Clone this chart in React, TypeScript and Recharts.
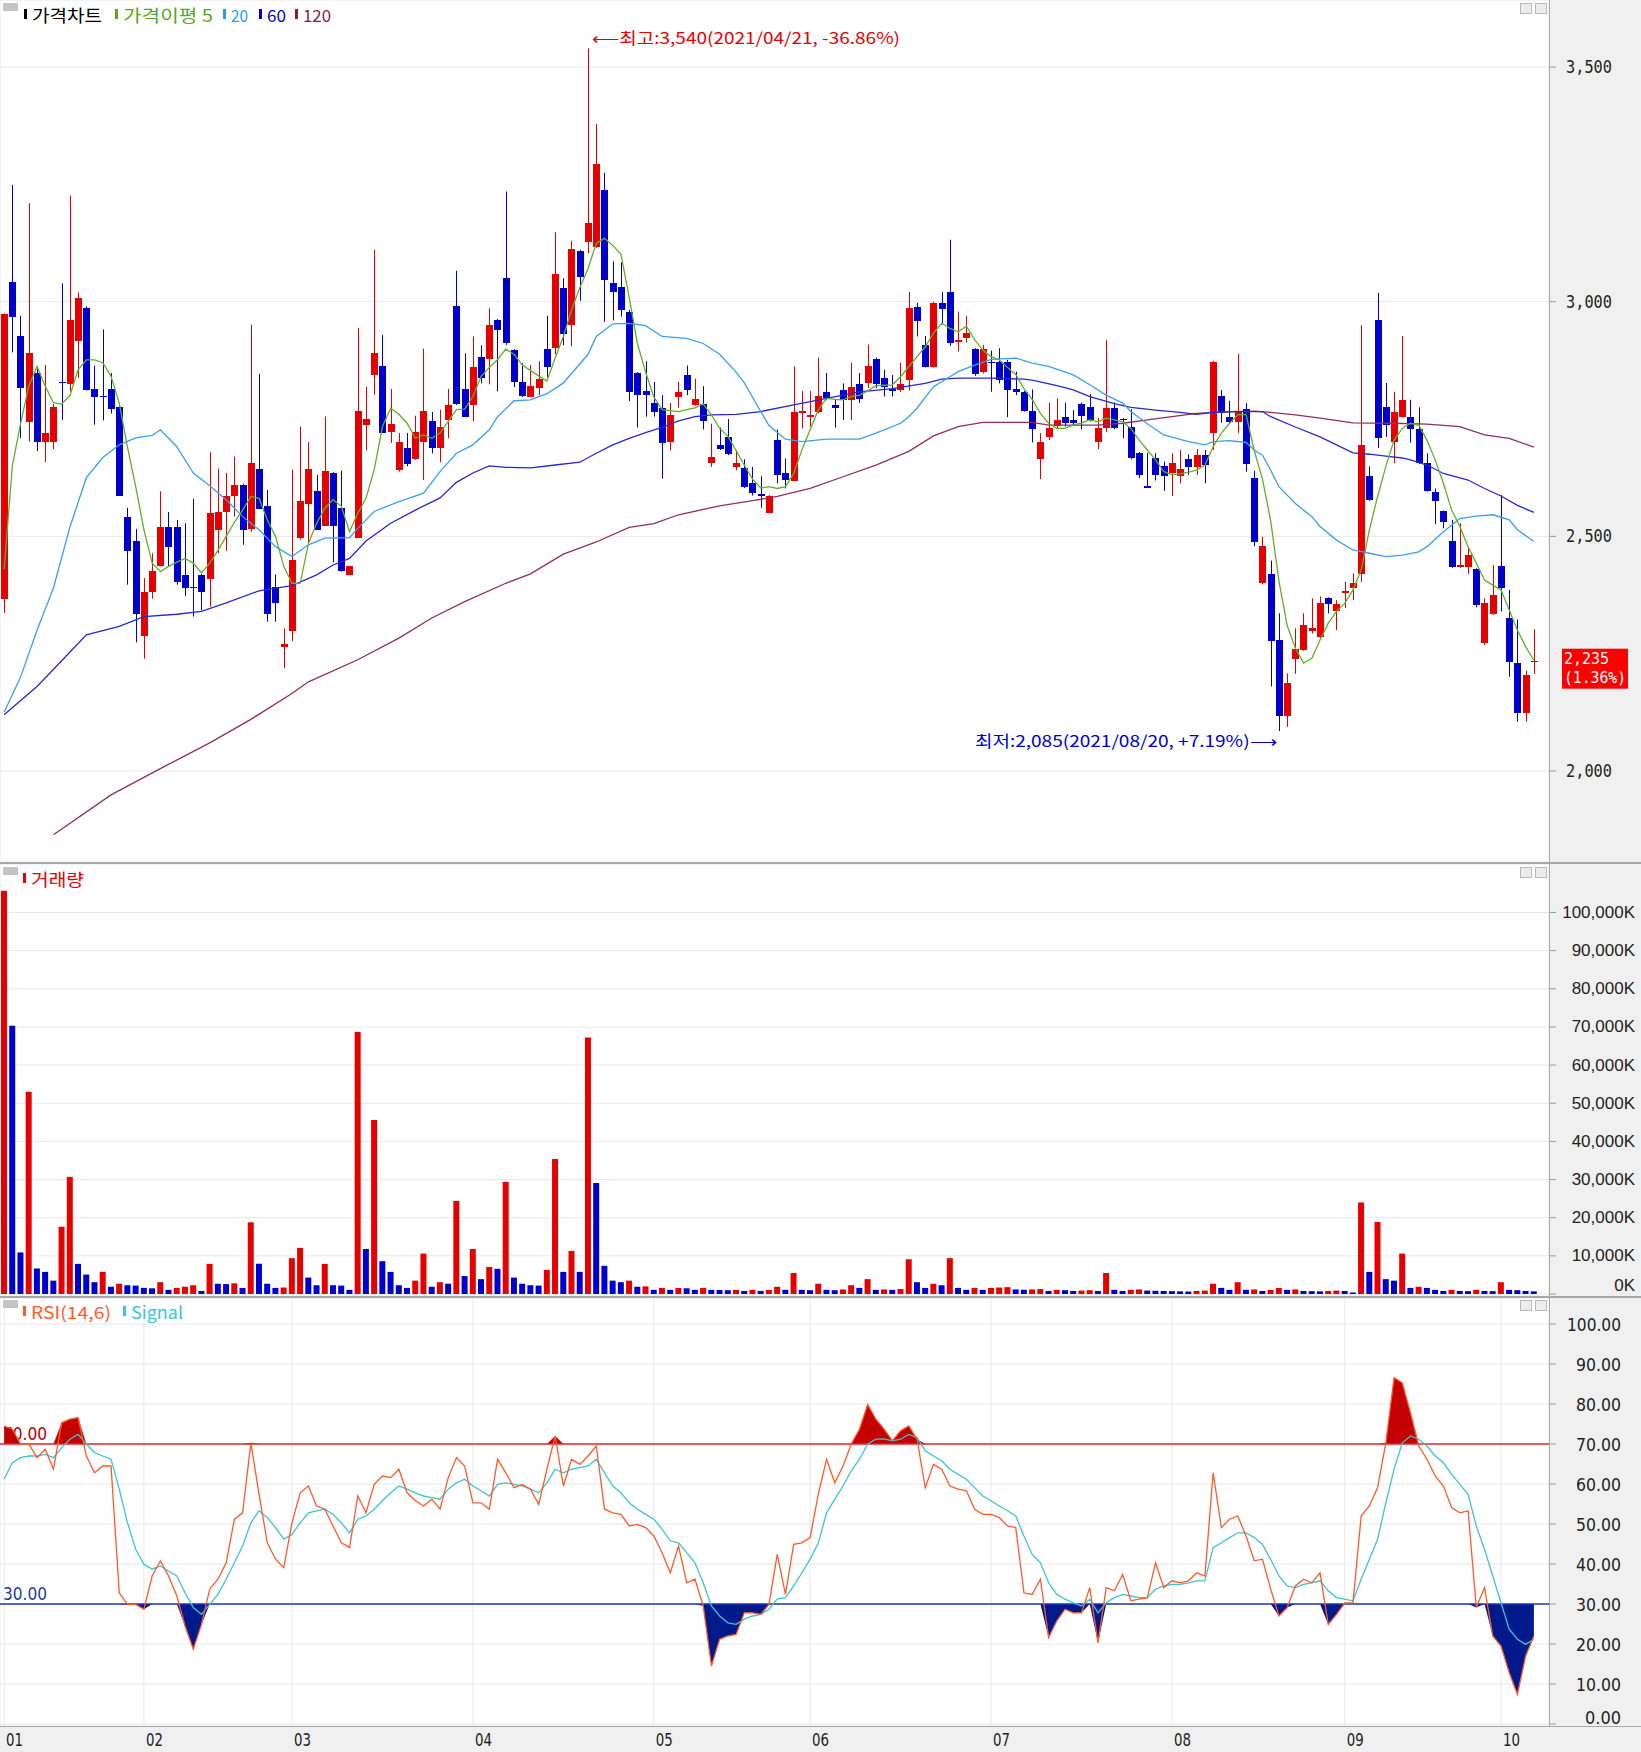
import React from "react";
import {
  ComposedChart,
  Bar,
  Line,
  Area,
  XAxis,
  YAxis,
  CartesianGrid,
  ReferenceLine,
  ReferenceDot,
  Cell,
} from "recharts";

const W = 1641;
const AXIS_W = 92;
const PAD_R = 11;
const RED = "#e60000";
const BLUE = "#0000cc";
const GRID = "#e8e8e8";
const NARROW = "'DejaVu Sans', sans-serif";
const KR = "'Noto Sans CJK KR', sans-serif";

// month boundaries (index of first trading day) and their labels
const monthStarts = [0, 17, 35, 57, 79, 98, 120, 142, 163, 182];
const monthLabels = ["01", "02", "03", "04", "05", "06", "07", "08", "09", "10"];

// daily candles, 2021-01-07 .. 2021-10-08
const opens = [
  2366, 3043, 2928, 2743, 2849, 2700, 2702, 2829, 2824, 2917,
  2986, 2814, 2800, 2814, 2775, 2542, 2490, 2287, 2382, 2437,
  2519, 2519, 2417, 2392, 2417, 2409, 2514, 2552, 2586, 2609,
  2515, 2643, 2564, 2391, 2265, 2299, 2496, 2569, 2596, 2523,
  2634, 2560, 2418, 2497, 2738, 2843, 2862, 2722, 2642, 2688,
  2664, 2700, 2745, 2688, 2748, 2990, 2814, 2780, 2883, 2878,
  2960, 3050, 2897, 2828, 2798, 2816, 2899, 2902, 3030, 2950,
  3109, 3128, 3116, 3238, 3040, 3031, 2978, 2848, 2810, 2785,
  2774, 2702, 2798, 2844, 2780, 2783, 2656, 2694, 2711, 2648,
  2645, 2614, 2590, 2549, 2705, 2634, 2619, 2762, 2754, 2764,
  2808, 2780, 2812, 2791, 2825, 2826, 2879, 2838, 2813, 2812,
  2833, 2988, 2908, 2860, 2998, 3021, 2914, 2922, 2899, 2851,
  2871, 2872, 2872, 2813, 2808, 2768, 2664, 2711, 2735, 2755,
  2749, 2781, 2775, 2700, 2730, 2774, 2751, 2734, 2677, 2607,
  2668, 2650, 2634, 2629, 2664, 2647, 2673, 2720, 2800, 2755,
  2744, 2771, 2624, 2400, 2420, 2279, 2117, 2238, 2258, 2299,
  2285, 2368, 2340, 2380, 2389, 2420, 2629, 2962, 2775, 2700,
  2755, 2755, 2728, 2656, 2595, 2553, 2491, 2435, 2435, 2430,
  2273, 2335, 2437, 2325, 2231, 2124, 2233,
];
const highs = [
  2975, 3249, 2970, 3210, 2862, 2865, 2782, 3039, 3226, 3020,
  2990, 2864, 2941, 2848, 2784, 2561, 2516, 2411, 2464, 2596,
  2552, 2535, 2528, 2580, 2420, 2679, 2644, 2635, 2670, 2612,
  2951, 2846, 2599, 2419, 2304, 2642, 2734, 2701, 2631, 2755,
  2637, 2640, 2437, 2944, 2819, 3111, 2929, 2814, 2720, 2720,
  2757, 2900, 2765, 2770, 2814, 3066, 2890, 2926, 2907, 2986,
  2963, 3235, 2899, 2869, 2865, 2873, 2970, 3148, 3050, 3130,
  3111, 3540, 3379, 3275, 3086, 3084, 2983, 2850, 2873, 2829,
  2801, 2784, 2829, 2864, 2836, 2820, 2740, 2732, 2750, 2684,
  2664, 2648, 2628, 2588, 2728, 2666, 2862, 2810, 2810, 2881,
  2848, 2793, 2826, 2870, 2848, 2909, 2881, 2855, 2844, 2870,
  3021, 2998, 2927, 3000, 3021, 3132, 2979, 2970, 2901, 2908,
  2896, 2901, 2876, 2851, 2810, 2813, 2720, 2785, 2794, 2785,
  2769, 2785, 2803, 2752, 2918, 2785, 2752, 2771, 2680, 2678,
  2677, 2659, 2677, 2684, 2675, 2686, 2684, 2874, 2812, 2789,
  2889, 2784, 2640, 2499, 2448, 2336, 2208, 2304, 2336, 2368,
  2372, 2370, 2364, 2403, 2421, 2950, 2649, 3019, 2827, 2808,
  2927, 2791, 2775, 2677, 2602, 2555, 2535, 2528, 2475, 2432,
  2368, 2439, 2588, 2386, 2323, 2214, 2302,
];
const lows = [
  2337, 2892, 2709, 2702, 2682, 2658, 2686, 2748, 2809, 2837,
  2811, 2738, 2747, 2762, 2587, 2397, 2274, 2239, 2367, 2436,
  2436, 2397, 2373, 2329, 2343, 2350, 2464, 2469, 2542, 2482,
  2510, 2559, 2318, 2318, 2219, 2277, 2493, 2485, 2514, 2523,
  2445, 2425, 2418, 2497, 2683, 2802, 2720, 2699, 2638, 2649,
  2663, 2620, 2677, 2658, 2709, 2780, 2754, 2745, 2826, 2824,
  2809, 2908, 2818, 2797, 2797, 2801, 2839, 2888, 2907, 2905,
  3002, 3103, 3115, 2957, 2960, 2968, 2788, 2732, 2755, 2755,
  2623, 2683, 2774, 2801, 2778, 2728, 2648, 2684, 2673, 2641,
  2603, 2587, 2561, 2549, 2613, 2602, 2619, 2730, 2734, 2762,
  2790, 2732, 2748, 2748, 2784, 2816, 2816, 2798, 2798, 2808,
  2811, 2926, 2860, 2860, 2954, 2906, 2894, 2913, 2842, 2847,
  2808, 2826, 2754, 2801, 2766, 2700, 2622, 2705, 2730, 2734,
  2735, 2728, 2745, 2686, 2722, 2728, 2709, 2664, 2624, 2603,
  2619, 2597, 2586, 2613, 2631, 2631, 2613, 2684, 2742, 2740,
  2720, 2638, 2479, 2398, 2180, 2085, 2094, 2207, 2256, 2293,
  2284, 2336, 2300, 2347, 2364, 2403, 2576, 2688, 2712, 2656,
  2753, 2700, 2654, 2595, 2526, 2517, 2433, 2433, 2420, 2349,
  2268, 2333, 2340, 2201, 2105, 2105, 2207,
];
const closes = [
  2973, 2968, 2817, 2890, 2702, 2720, 2775, 2826, 2960, 3008,
  2812, 2798, 2798, 2772, 2587, 2469, 2334, 2381, 2426, 2519,
  2478, 2402, 2390, 2391, 2382, 2549, 2552, 2586, 2609, 2514,
  2656, 2559, 2334, 2358, 2271, 2449, 2576, 2644, 2514, 2640,
  2523, 2426, 2436, 2768, 2750, 2890, 2720, 2740, 2701, 2654,
  2723, 2768, 2688, 2733, 2780, 2782, 2754, 2860, 2837, 2951,
  2939, 2912, 2828, 2800, 2820, 2835, 2861, 3059, 2932, 3113,
  3052, 3168, 3293, 3046, 3021, 2983, 2808, 2801, 2802, 2766,
  2699, 2759, 2808, 2812, 2793, 2745, 2669, 2686, 2676, 2656,
  2605, 2593, 2587, 2586, 2631, 2620, 2764, 2768, 2759, 2800,
  2794, 2773, 2791, 2819, 2792, 2864, 2825, 2819, 2811, 2825,
  2986, 2958, 2860, 2998, 2984, 2911, 2919, 2934, 2846, 2899,
  2869, 2833, 2811, 2808, 2768, 2728, 2702, 2730, 2747, 2741,
  2742, 2757, 2748, 2730, 2774, 2730, 2748, 2666, 2631, 2604,
  2631, 2629, 2656, 2643, 2647, 2673, 2652, 2872, 2762, 2744,
  2766, 2654, 2487, 2479, 2278, 2117, 2187, 2259, 2311, 2304,
  2357, 2355, 2355, 2384, 2400, 2695, 2578, 2709, 2737, 2764,
  2791, 2728, 2656, 2597, 2575, 2531, 2435, 2439, 2460, 2354,
  2359, 2375, 2389, 2233, 2123, 2205, 2235,
];

// volume, in thousands of shares
const volumes = [
  105700, 70300, 10900, 53000, 6700, 5800, 3500, 17600, 30700, 7900,
  5100, 3100, 5800, 1900, 2700, 2300, 2200, 1600, 1500, 3100,
  1100, 1600, 1900, 2300, 800, 7900, 2700, 2600, 2800, 1600,
  18800, 7900, 2700, 1600, 1700, 9400, 12100, 4300, 2300, 7900,
  2300, 2200, 1100, 68700, 11800, 45600, 8600, 5800, 2300, 1600,
  3500, 10600, 1900, 3100, 2700, 24400, 4700, 11800, 3900, 7100,
  6600, 29400, 4300, 2700, 2300, 2200, 6300, 35400, 5800, 11300,
  5800, 67200, 29100, 7400, 3500, 3100, 3500, 1900, 2000, 1100,
  1600, 1100, 1600, 1500, 1100, 1600, 1100, 1050, 1000, 1100,
  800, 1100, 800, 1100, 1900, 1100, 5500, 1100, 1000, 2700,
  1100, 1000, 1200, 2300, 1600, 3900, 1100, 1200, 1100, 1300,
  9100, 3100, 1600, 2700, 2300, 9400, 1600, 1100, 1600, 1100,
  1600, 1700, 1800, 1200, 1100, 1200, 1300, 800, 1100, 1000,
  800, 900, 1000, 800, 5500, 1100, 800, 1100, 1200, 900,
  850, 800, 750, 700, 650, 800, 900, 2700, 1600, 1100,
  3100, 1100, 1200, 800, 1100, 1600, 1100, 1200, 800, 750,
  700, 800, 900, 800, 400, 24000, 5800, 18900, 3900, 3500,
  10600, 1600, 1900, 1600, 1100, 800, 1100, 800, 750, 1100,
  800, 750, 3100, 1100, 1000, 800, 700,
];

// RSI(14) and its 6-day signal
const rsi = [
  74.5, 73.7, 70, 70, 66.6, 68.7, 63.7, 75.3, 76.2, 76.6,
  67, 62.8, 64.5, 64.5, 32.8, 29.9, 29.9, 28.7, 37, 40.8,
  37, 32, 24.5, 18.7, 24.9, 33.7, 36.2, 40.3, 51.2, 52.8,
  70.3, 57.4, 45.3, 41.2, 39.1, 50.3, 57.8, 59.5, 54.5, 53.7,
  49.5, 45.3, 44.1, 57, 52.8, 59.9, 62, 61.6, 63.7, 57.8,
  55.8, 54.5, 56.2, 53.7, 61.6, 66.6, 64.5, 55.3, 55.3, 53.7,
  66.2, 62.8, 59.1, 59.9, 58.7, 54.9, 63.7, 72, 59.5, 66.2,
  64.9, 67, 69.5, 53.7, 52.8, 52.4, 49.5, 49.9, 49.1, 47,
  42.8, 37.8, 44.5, 35.3, 36.2, 29.5, 14.5, 21.2, 22, 22.4,
  27.8, 27.8, 27.4, 29.9, 42.4, 32.4, 44.9, 45.3, 46.6, 57.5,
  66.2, 60.3, 64.5, 70, 73.7, 79.9, 76.2, 73.7, 70.8, 73.3,
  74.5, 71.2, 59.1, 64.9, 63.7, 59.5, 58.7, 58.3, 53.7, 52.4,
  52.4, 51.6, 49.5, 49.1, 32.8, 32.4, 36.2, 21.6, 25.8, 28.7,
  27.8, 27.8, 34.1, 20.3, 34.1, 33.3, 37.4, 30.8, 31.2, 31.6,
  40.3, 34.1, 35.8, 35.3, 35.8, 37.8, 37, 62.8, 49.1, 51.2,
  52, 47, 40.8, 41.2, 33.7, 27, 29.1, 34.5, 36.2, 35.3,
  37.8, 24.9, 27.4, 30.3, 30.3, 52, 54.5, 59.1, 70.3, 86.6,
  85.3, 77.8, 69.5, 66.2, 62, 59.5, 54.1, 52.8, 53.3, 29.1,
  34.1, 22, 19.5, 12.8, 7.4, 17, 22,
];
const signal = [
  61.2, 65.3, 66.6, 67, 67, 67.4, 66.6, 69.1, 71.2, 72.4,
  70, 67.8, 67, 66.2, 58.7, 50.3, 43.7, 39.9, 38.7, 39.5,
  38.2, 37, 32.8, 29.1, 27.4, 29.9, 32.4, 36.2, 40.3, 44.5,
  50.3, 53.3, 51.6, 49.1, 46.2, 47.4, 50.3, 52.8, 53.3, 53.7,
  52.4, 50.3, 47.8, 51.2, 52, 53.7, 55.8, 57.8, 59.5, 58.7,
  57.8, 57, 56.6, 56.2, 58.7, 60.3, 61.2, 59.5, 58.3, 57,
  59.9, 60.3, 59.9, 59.5, 58.7, 57.8, 60.3, 63.7, 62.8, 63.7,
  64.1, 64.5, 66.2, 62.8, 59.5, 57.8, 55.3, 53.7, 52.4, 51.2,
  48.7, 45.8, 45.3, 42.8, 40.3, 35.3, 29.5, 27, 25.3, 24.9,
  26.2, 27, 27.4, 28.7, 31.2, 31.6, 34.5, 37.8, 41.2, 45.3,
  52.8, 56.2, 59.5, 63.3, 66.2, 70, 71.2, 71.3, 70.8, 71.2,
  72.4, 71.6, 68.3, 67, 65.8, 63.7, 62.4, 61.2, 59.1, 57,
  55.8, 54.5, 53.3, 52, 47, 42.4, 40.3, 35.3, 32.4, 31.2,
  30.3, 29.5, 31.2, 27.8, 30.3, 31.6, 32.4, 32, 31.6, 31.6,
  33.7, 34.5, 34.9, 34.9, 35.3, 35.8, 35.8, 44.1, 45.3, 46.6,
  47.8, 47.8, 46.6, 44.9, 41.2, 37, 34.5, 34.1, 34.9, 35.3,
  35.8, 33.3, 31.6, 31.2, 30.8, 36.2, 41.2, 46.2, 55.3, 63.7,
  70.3, 72, 71.2, 69.5, 67, 65.3, 62.4, 59.9, 57.4, 49.5,
  43.7, 37, 30.3, 23.7, 21.2, 19.9, 21.2,
];

// moving averages as [day index, price]
const ma5Pts = [
  [0, 2430], [1, 2650], [2, 2740], [3, 2820], [4, 2862], [5, 2820], [6, 2785], [7, 2782],
  [8, 2800], [9, 2855], [10, 2876], [11, 2876], [12, 2870], [13, 2841], [14, 2784], [15, 2690],
  [16, 2606], [17, 2514], [18, 2443], [19, 2425], [20, 2436], [21, 2445], [22, 2453], [23, 2443],
  [24, 2422], [25, 2443], [26, 2470], [27, 2500], [28, 2530], [29, 2556], [30, 2585], [31, 2581],
  [32, 2535], [33, 2500], [34, 2436], [35, 2400], [36, 2400], [37, 2485], [38, 2528], [39, 2560],
  [40, 2578], [41, 2564], [42, 2510], [43, 2549], [44, 2581], [45, 2642], [46, 2734], [47, 2773],
  [48, 2760], [49, 2741], [50, 2709], [51, 2716], [52, 2709], [53, 2720], [54, 2745], [55, 2770],
  [56, 2771], [57, 2798], [58, 2841], [59, 2860], [60, 2877], [61, 2899], [62, 2888], [63, 2865],
  [65, 2842], [66, 2831], [67, 2880], [68, 2926], [69, 2983], [70, 3030], [71, 3071], [72, 3124],
  [73, 3135], [74, 3120], [75, 3101], [76, 3010], [77, 2911], [78, 2850], [79, 2797], [80, 2770],
  [81, 2768], [82, 2766], [83, 2770], [84, 2774], [85, 2782], [86, 2759], [87, 2730], [88, 2713],
  [89, 2683], [90, 2652], [91, 2622], [92, 2603], [93, 2606], [94, 2602], [95, 2606], [96, 2634],
  [97, 2684], [98, 2727], [99, 2770], [100, 2794], [101, 2792], [102, 2791], [103, 2798], [104, 2801],
  [105, 2810], [106, 2821], [107, 2822], [108, 2823], [109, 2840], [110, 2862], [111, 2883], [112, 2904],
  [113, 2933], [114, 2954], [115, 2943], [116, 2936], [117, 2948], [118, 2919], [119, 2897], [120, 2883],
  [121, 2876], [122, 2860], [123, 2845], [124, 2815], [125, 2792], [126, 2762], [127, 2741], [128, 2730],
  [129, 2730], [130, 2737], [131, 2742], [132, 2748], [133, 2744], [134, 2752], [135, 2748], [136, 2744],
  [137, 2730], [138, 2705], [139, 2684], [140, 2663], [141, 2638], [142, 2631], [143, 2633], [144, 2637],
  [145, 2641], [146, 2652], [147, 2691], [148, 2720], [149, 2741], [150, 2759], [151, 2760], [152, 2683],
  [153, 2622], [154, 2533], [155, 2405], [156, 2310], [157, 2262], [158, 2230], [159, 2240], [160, 2279],
  [161, 2315], [162, 2340], [163, 2357], [164, 2386], [165, 2428], [166, 2514], [167, 2585], [168, 2649],
  [169, 2705], [170, 2730], [171, 2741], [172, 2737], [173, 2705], [174, 2663], [175, 2613], [176, 2556],
  [177, 2521], [178, 2478], [179, 2443], [180, 2407], [181, 2396], [182, 2386], [183, 2343], [184, 2300],
  [185, 2265], [186, 2236],
];
const ma20Pts = [
  [0, 2125], [2, 2200], [4, 2300], [6, 2390], [8, 2520], [10, 2625], [12, 2668], [14, 2695],
  [16, 2710], [18, 2715], [19, 2727], [21, 2691], [23, 2635], [25, 2608], [27, 2578], [29, 2542],
  [31, 2514], [33, 2478], [35, 2457], [37, 2482], [39, 2496], [42, 2497], [43, 2517], [45, 2553],
  [48, 2574], [51, 2592], [53, 2638], [55, 2677], [57, 2695], [59, 2727], [60, 2755], [62, 2789],
  [64, 2791], [66, 2804], [68, 2827], [71, 2888], [72, 2926], [74, 2953], [76, 2954], [78, 2949],
  [80, 2926], [83, 2922], [85, 2911], [87, 2888], [89, 2850], [90, 2827], [92, 2766], [93, 2736],
  [95, 2707], [97, 2702], [100, 2707], [104, 2707], [106, 2720], [109, 2741], [110, 2755], [111, 2773],
  [113, 2819], [115, 2840], [116, 2851], [118, 2865], [120, 2877], [123, 2880], [125, 2869], [127, 2862],
  [130, 2844], [132, 2823], [134, 2801], [136, 2784], [137, 2766], [139, 2740], [141, 2716], [144, 2702],
  [146, 2695], [147, 2702], [149, 2704], [151, 2700], [152, 2684], [153, 2673], [154, 2641], [155, 2606],
  [157, 2570], [159, 2542], [160, 2521], [162, 2492], [164, 2471], [166, 2464], [168, 2457], [170, 2460],
  [172, 2467], [173, 2478], [175, 2510], [177, 2538], [179, 2543], [181, 2546], [183, 2535], [184, 2514],
  [186, 2489],
];
const ma60Pts = [
  [0, 2120], [4, 2180], [7, 2235], [10, 2290], [14, 2308], [17, 2329], [21, 2334], [24, 2340],
  [27, 2358], [31, 2384], [35, 2395], [38, 2418], [40, 2439], [42, 2453], [44, 2490], [47, 2528],
  [50, 2556], [53, 2582], [55, 2615], [57, 2635], [59, 2650], [61, 2647], [64, 2646], [67, 2652],
  [70, 2658], [72, 2677], [74, 2695], [76, 2709], [78, 2721], [80, 2732], [82, 2746], [84, 2755],
  [86, 2759], [89, 2760], [92, 2766], [96, 2780], [100, 2794], [104, 2808], [108, 2815], [112, 2826],
  [114, 2835], [116, 2837], [120, 2837], [124, 2835], [125, 2833], [128, 2821], [130, 2812], [132, 2798],
  [135, 2783], [137, 2775], [140, 2769], [143, 2764], [145, 2760], [147, 2764], [150, 2766], [153, 2766],
  [154, 2755], [157, 2733], [160, 2712], [162, 2695], [164, 2678], [166, 2675], [168, 2671], [170, 2667],
  [171, 2663], [173, 2652], [175, 2634], [178, 2620], [180, 2602], [182, 2586], [184, 2566], [186, 2551],
];
const ma120Pts = [
  [6, 1864], [13, 1949], [19, 2005], [25, 2060], [30, 2110], [35, 2165], [37, 2190], [43, 2237],
  [48, 2283], [52, 2326], [56, 2361], [61, 2400], [64, 2420], [68, 2462], [72, 2488], [76, 2519],
  [79, 2527], [82, 2546], [87, 2565], [91, 2576], [94, 2585], [98, 2602], [102, 2627], [106, 2652],
  [110, 2681], [113, 2714], [116, 2734], [119, 2743], [125, 2743], [127, 2737], [133, 2737], [136, 2741],
  [139, 2748], [142, 2755], [145, 2762], [149, 2766], [152, 2767], [154, 2764], [157, 2759], [160, 2752],
  [164, 2742], [169, 2741], [173, 2739], [177, 2734], [180, 2716], [183, 2709], [186, 2690],
];

const priceTicks = [2000, 2500, 3000, 3500];
const volTicks = [0, 10000, 20000, 30000, 40000, 50000, 60000, 70000, 80000, 90000, 100000];
const rsiTicks = [0, 10, 20, 30, 40, 50, 60, 70, 80, 90, 100];

const m5 = new Map(ma5Pts as [number, number][]);
const m20 = new Map(ma20Pts as [number, number][]);
const m60 = new Map(ma60Pts as [number, number][]);
const m120 = new Map(ma120Pts as [number, number][]);

const priceData = opens.map((o, i) => ({
  i,
  o,
  h: highs[i],
  l: lows[i],
  c: closes[i],
  range: [lows[i], highs[i]],
  ma5: m5.get(i) ?? null,
  ma20: m20.get(i) ?? null,
  ma60: m60.get(i) ?? null,
  ma120: m120.get(i) ?? null,
}));
const volData = volumes.map((v, i) => ({ i, v }));
const rsiData = rsi.map((r, i) => ({
  i,
  rsi: r,
  sig: signal[i],
  hot: [70, Math.max(r, 70)],
  cold: [Math.min(r, 30), 30],
}));

const Candle = (props: any) => {
  const { x, y, width, height, payload } = props;
  if (!payload || x == null) return null;
  const { o, h, l, c } = payload;
  const color = c >= o ? RED : BLUE;
  const top = height >= 0 ? y : y + height;
  const hh = Math.abs(height);
  const k = h > l ? hh / (h - l) : 0;
  const bx = Math.round(x);
  const cx = bx + Math.floor(width / 2) + 0.5;
  const b1 = top + (h - Math.max(o, c)) * k;
  const b2 = top + (h - Math.min(o, c)) * k;
  return (
    <g>
      <line x1={cx} x2={cx} y1={top} y2={top + hh} stroke={color} strokeWidth={1} />
      <rect x={bx} y={b1} width={width} height={Math.max(1.2, b2 - b1)} fill={color} shapeRendering="crispEdges" />
    </g>
  );
};

const PriceTick = ({ x, y, payload }: any) => (
  <g>
    <line x1={x} x2={x + 7} y1={y} y2={y} stroke="#9a9a9a" />
    <text x={x + 17} y={y} dominantBaseline="central" fontFamily="'DejaVu Sans Mono', monospace" fontSize={17}
      textLength={46} lengthAdjust="spacingAndGlyphs" fill="#222">
      {payload.value.toLocaleString("en-US")}
    </text>
  </g>
);

const VolTick = ({ x, y, payload }: any) => {
  const s = `${payload.value.toLocaleString("en-US")}K`;
  return (
    <g>
      <line x1={x} x2={x + 7} y1={y} y2={y} stroke="#9a9a9a" />
      <text x={x + 86} y={y + (payload.value === 0 ? -9 : 0)} textAnchor="end" dominantBaseline="central"
        fontFamily="'Liberation Sans', Arial, sans-serif" fontSize={17} fill="#222">
        {s}
      </text>
    </g>
  );
};

const RsiTick = ({ x, y, payload }: any) => {
  const s = payload.value.toFixed(2);
  return (
    <g>
      <line x1={x} x2={x + 7} y1={y} y2={y} stroke="#9a9a9a" />
      <text x={x + 72} y={y + (payload.value === 0 ? -7 : 0)} textAnchor="end" dominantBaseline="central"
        fontFamily={NARROW} fontSize={18} textLength={s.length * 9} lengthAdjust="spacingAndGlyphs" fill="#222">
        {s}
      </text>
    </g>
  );
};

const MonthTick = ({ x, y, payload }: any) => {
  const k = monthStarts.indexOf(payload.value);
  return (
    <text x={x + 2} y={y + 13} dominantBaseline="central" fontFamily={NARROW} fontSize={18}
      textLength={17} lengthAdjust="spacingAndGlyphs" fill="#222">
      {monthLabels[k]}
    </text>
  );
};

const HighNote = ({ cx, cy }: any) => (
  <text x={cx + 4} y={cy - 11} dominantBaseline="central" fontFamily={KR} fontSize={16} fill={RED}
    textLength={308} lengthAdjust="spacingAndGlyphs">
    ⟵최고:3,540(2021/04/21, -36.86%)
  </text>
);

const LowNote = ({ cx, cy }: any) => (
  <text x={cx - 2} y={cy + 9} textAnchor="end" dominantBaseline="central" fontFamily={KR} fontSize={16} fill={BLUE}
    textLength={302} lengthAdjust="spacingAndGlyphs">
    최저:2,085(2021/08/20, +7.19%)⟶
  </text>
);

const LastTag = (props: any) => {
  const vb = props.viewBox || {};
  const x0 = vb.x + vb.width + 13;
  const y0 = vb.y - 12;
  return (
    <g>
      <rect x={x0} y={y0} width={66} height={40} fill="#ff0000" />
      <text x={x0 + 2} y={y0 + 10} dominantBaseline="central" fontFamily="'DejaVu Sans Mono', monospace" fontSize={15}
        fill="#fff" textLength={45} lengthAdjust="spacingAndGlyphs">2,235</text>
      <text x={x0 + 2} y={y0 + 29} dominantBaseline="central" fontFamily="'DejaVu Sans Mono', monospace" fontSize={15}
        fill="#fff" textLength={62} lengthAdjust="spacingAndGlyphs">(1.36%)</text>
    </g>
  );
};

const LevelLabel = (text: string, color: string) => (props: any) => {
  const vb = props.viewBox || {};
  return (
    <text x={vb.x + 3} y={vb.y - 11} dominantBaseline="central" fontFamily={NARROW} fontSize={18} fill={color}
      textLength={44} lengthAdjust="spacingAndGlyphs">
      {text}
    </text>
  );
};

const xAxisHidden = (
  <XAxis dataKey="i" type="category" scale="band" ticks={monthStarts} interval={0} height={0} tick={false}
    axisLine={false} tickLine={false} padding={{ left: 0, right: PAD_R }} />
);

const maLine = (key: string, color: string) => (
  <Line key={key} dataKey={key} type="linear" stroke={color} strokeWidth={1.3} dot={false} activeDot={false}
    connectNulls isAnimationActive={false} />
);

const PanelIcons = ({ y }: { y: number }) => (
  <g>
    <rect x={3} y={y} width={15} height={8} fill="#c4c4c4" />
    <rect x={1520.5} y={y + 0.5} width={11} height={10} fill="#ececec" stroke="#b8b8b8" />
    <rect x={1535.5} y={y + 0.5} width={11} height={10} fill="#ececec" stroke="#b8b8b8" />
  </g>
);

const Tag = ({ x, y, color, text, w }: any) => (
  <g>
    <rect x={x} y={y - 5} width={3} height={10} fill={color} />
    <text x={x + 8} y={y} dominantBaseline="central" fontFamily={KR} fontSize={17} fill={color}
      textLength={w} lengthAdjust="spacingAndGlyphs">
      {text}
    </text>
  </g>
);

export default function App() {
  return (
    <div style={{ position: "absolute", left: 0, top: 0, width: W, height: 1752, background: "#fff", overflow: "hidden" }}>
      <div style={{ position: "absolute", left: 1550, top: 0, width: W - 1550, height: 1752, background: "#f0f0f0" }} />
      <div style={{ position: "absolute", left: 0, top: 1727, width: W, height: 25, background: "#f0f0f0" }} />

      <div style={{ position: "absolute", left: 0, top: 0 }}>
        <ComposedChart width={W} height={862} data={priceData} margin={{ top: 0, right: 0, bottom: 0, left: 0 }} barSize={7}>
          <CartesianGrid stroke={GRID} />
          {xAxisHidden}
          <YAxis orientation="right" width={AXIS_W} domain={[1806, 3643]} ticks={priceTicks} interval={0} allowDataOverflow
            axisLine={false} tickLine={false} tickSize={0} tickMargin={0} tick={(p: any) => <PriceTick {...p} />} />
          <Bar dataKey="range" isAnimationActive={false} shape={(p: any) => <Candle {...p} />} />
          {maLine("ma120", "#8e2f60")}
          {maLine("ma60", "#2828d0")}
          {maLine("ma20", "#3a9ff0")}
          {maLine("ma5", "#62b02a")}
          <ReferenceDot x={71} y={3540} r={0} shape={(p: any) => <HighNote {...p} />} />
          <ReferenceDot x={155} y={2085} r={0} shape={(p: any) => <LowNote {...p} />} />
          <ReferenceLine y={2235} stroke="none" label={(p: any) => <LastTag {...p} />} />
        </ComposedChart>
      </div>

      <div style={{ position: "absolute", left: 0, top: 864 }}>
        <ComposedChart width={W} height={432} data={volData} margin={{ top: 0, right: 0, bottom: 0, left: 0 }} barSize={6}>
          <CartesianGrid stroke={GRID} />
          {xAxisHidden}
          <YAxis orientation="right" width={AXIS_W} domain={[-520, 112700]} ticks={volTicks} interval={0} allowDataOverflow
            axisLine={false} tickLine={false} tickSize={0} tickMargin={0} tick={(p: any) => <VolTick {...p} />} />
          <Bar dataKey="v" isAnimationActive={false}>
            {volumes.map((v, i) => (
              <Cell key={i} fill={i === 0 || v > volumes[i - 1] ? RED : BLUE} />
            ))}
          </Bar>
        </ComposedChart>
      </div>

      <div style={{ position: "absolute", left: 0, top: 1298 }}>
        <ComposedChart width={W} height={454} data={rsiData} margin={{ top: 0, right: 0, bottom: 0, left: 0 }}>
          <CartesianGrid stroke={GRID} />
          <XAxis dataKey="i" type="category" scale="band" ticks={monthStarts} interval={0} height={26}
            axisLine={false} tickLine={false} tickSize={0} tickMargin={0} padding={{ left: 0, right: PAD_R }}
            tick={(p: any) => <MonthTick {...p} />} />
          <YAxis orientation="right" width={AXIS_W} domain={[-0.5, 106.5]} ticks={rsiTicks} interval={0} allowDataOverflow
            axisLine={false} tickLine={false} tickSize={0} tickMargin={0} tick={(p: any) => <RsiTick {...p} />} />
          <ReferenceLine y={70} stroke="#e02828" strokeWidth={1.6} label={LevelLabel("70.00", "#b00000")} />
          <ReferenceLine y={30} stroke="#2038a8" strokeWidth={1.6} label={LevelLabel("30.00", "#1c3aa0")} />
          <Area dataKey="hot" type="linear" stroke="none" fill="#c40000" fillOpacity={1} isAnimationActive={false} activeDot={false} />
          <Area dataKey="cold" type="linear" stroke="none" fill="#001a8c" fillOpacity={1} isAnimationActive={false} activeDot={false} />
          <Line dataKey="sig" type="linear" stroke="#3cc4d4" strokeWidth={1.3} dot={false} activeDot={false} isAnimationActive={false} />
          <Line dataKey="rsi" type="linear" stroke="#ff5a2a" strokeWidth={1.3} dot={false} activeDot={false} isAnimationActive={false} />
        </ComposedChart>
      </div>

      <svg width={W} height={1752} style={{ position: "absolute", left: 0, top: 0, pointerEvents: "none" }}>
        <line x1={1549.5} x2={1549.5} y1={0} y2={1727} stroke="#a8a8a8" />
        <rect x={0} y={862} width={W} height={2} fill="#a8a8a8" />
        <rect x={0} y={1296} width={W} height={2} fill="#a8a8a8" />
        <line x1={0} x2={W} y1={1726.5} y2={1726.5} stroke="#a8a8a8" />

        <PanelIcons y={3} />
        <PanelIcons y={867} />
        <PanelIcons y={1300} />

        <Tag x={24} y={14} color="#000" text="가격차트" w={70} />
        <Tag x={115} y={14} color="#5aa620" text="가격이평 5" w={90} />
        <Tag x={223} y={14} color="#2a9af0" text="20" w={17} />
        <Tag x={259} y={14} color="#0000d0" text="60" w={19} />
        <Tag x={295} y={14} color="#8b1a4a" text="120" w={28} />

        <Tag x={23} y={878} color={RED} text="거래량" w={53} />

        <Tag x={23} y={1311} color="#ff5a2a" text="RSI(14,6)" w={80} />
        <Tag x={123} y={1311} color="#3cc4d4" text="Signal" w={52} />
      </svg>
    </div>
  );
}
